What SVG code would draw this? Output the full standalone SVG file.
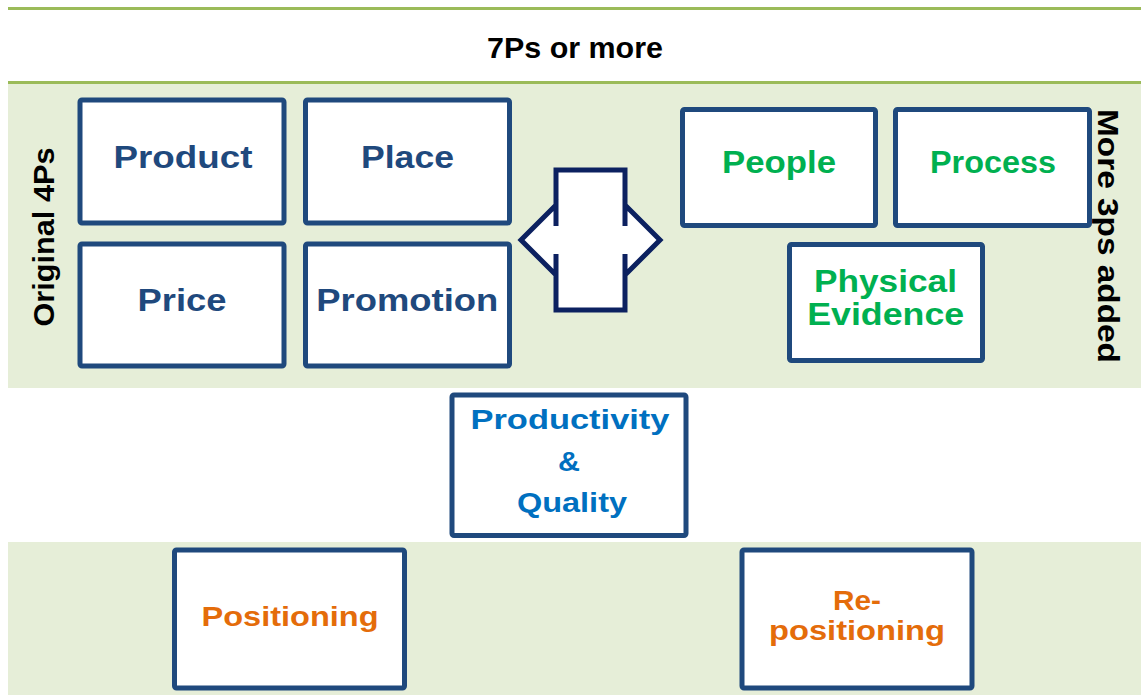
<svg xmlns="http://www.w3.org/2000/svg" width="1141" height="695" viewBox="0 0 1141 695">
<style>
.band{fill:#E6EED8}
.rule{fill:#9BBB59}
.box{fill:#FFFFFF;stroke:#1F497D;stroke-width:5}
.hd{font-family:"Liberation Sans",Arial,sans-serif;font-weight:bold;fill:#000000}
.lb{font-family:"Liberation Sans",Arial,sans-serif;font-weight:bold;text-anchor:middle}
.navy{fill:#1F497D}
.green{fill:#00B050}
.blue{fill:#0070C0}
.orange{fill:#E46C0A}
</style>
<rect x="0" y="0" width="1141" height="695" fill="#FFFFFF"/>
<rect class="band" x="8" y="84" width="1133" height="304"/>
<rect class="band" x="8" y="542" width="1133" height="153"/>
<rect class="rule" x="8" y="7" width="1133" height="3"/>
<rect class="rule" x="8" y="81" width="1133" height="3"/>
<text class="hd" x="575" y="58" font-size="30" text-anchor="middle" textLength="176" lengthAdjust="spacingAndGlyphs">7Ps or more</text>
<text class="hd" font-size="30" text-anchor="middle" transform="translate(54,237) rotate(-90)" textLength="179" lengthAdjust="spacingAndGlyphs">Original 4Ps</text>
<text class="hd" font-size="30" text-anchor="middle" transform="translate(1098,236) rotate(90)" textLength="254" lengthAdjust="spacingAndGlyphs">More 3ps added</text>
<g id="connectors">
<path d="M625,170 L625,226 L625,205 L660,240 L625,275 L625,254 L625,310 L556,310 L556,254 L556,275 L521,240 L556,205 L556,226 L556,170 Z" fill="#FFFFFF" stroke="#0C2160" stroke-width="5" stroke-linejoin="miter"/>
</g>
<g id="product"><rect class="box" x="80" y="100" width="204" height="123" rx="2"/><text class="lb navy" x="183" y="168" font-size="32" textLength="139" lengthAdjust="spacingAndGlyphs">Product</text></g>
<g id="place"><rect class="box" x="305.5" y="100" width="204" height="123" rx="2"/><text class="lb navy" x="407.5" y="168" font-size="32" textLength="93" lengthAdjust="spacingAndGlyphs">Place</text></g>
<g id="price"><rect class="box" x="80" y="244" width="204" height="122" rx="2"/><text class="lb navy" x="182" y="311" font-size="32" textLength="89" lengthAdjust="spacingAndGlyphs">Price</text></g>
<g id="promotion"><rect class="box" x="305.5" y="244" width="204" height="122" rx="2"/><text class="lb navy" x="407.3" y="311" font-size="32" textLength="182" lengthAdjust="spacingAndGlyphs">Promotion</text></g>
<g id="people"><rect class="box" x="682.5" y="109.5" width="193" height="116" rx="2"/><text class="lb green" x="779" y="172.7" font-size="32" textLength="114" lengthAdjust="spacingAndGlyphs">People</text></g>
<g id="process"><rect class="box" x="895.5" y="109.5" width="194" height="116" rx="2"/><text class="lb green" x="993" y="172.7" font-size="32" textLength="126" lengthAdjust="spacingAndGlyphs">Process</text></g>
<g id="physical-evidence"><rect class="box" x="789.5" y="244.5" width="193" height="116" rx="2"/><text class="lb green" x="885.5" y="291.7" font-size="31" textLength="143" lengthAdjust="spacingAndGlyphs">Physical</text><text class="lb green" x="885.7" y="325" font-size="31" textLength="157" lengthAdjust="spacingAndGlyphs">Evidence</text></g>
<g id="productivity-quality"><rect class="box" x="452" y="395" width="234" height="140.5" rx="2"/><text class="lb blue" x="570" y="429" font-size="28" textLength="199" lengthAdjust="spacingAndGlyphs">Productivity</text><text class="lb blue" x="569" y="470.7" font-size="28" textLength="22" lengthAdjust="spacingAndGlyphs">&amp;</text><text class="lb blue" x="572" y="512" font-size="28" textLength="110" lengthAdjust="spacingAndGlyphs">Quality</text></g>
<g id="positioning"><rect class="box" x="174.5" y="550" width="230" height="138" rx="2"/><text class="lb orange" x="290" y="626" font-size="28" textLength="177" lengthAdjust="spacingAndGlyphs">Positioning</text></g>
<g id="re-positioning"><rect class="box" x="742" y="550" width="230" height="138" rx="2"/><text class="lb orange" x="857" y="610" font-size="28" textLength="48" lengthAdjust="spacingAndGlyphs">Re-</text><text class="lb orange" x="857" y="640" font-size="28" textLength="176" lengthAdjust="spacingAndGlyphs">positioning</text></g>
</svg>
